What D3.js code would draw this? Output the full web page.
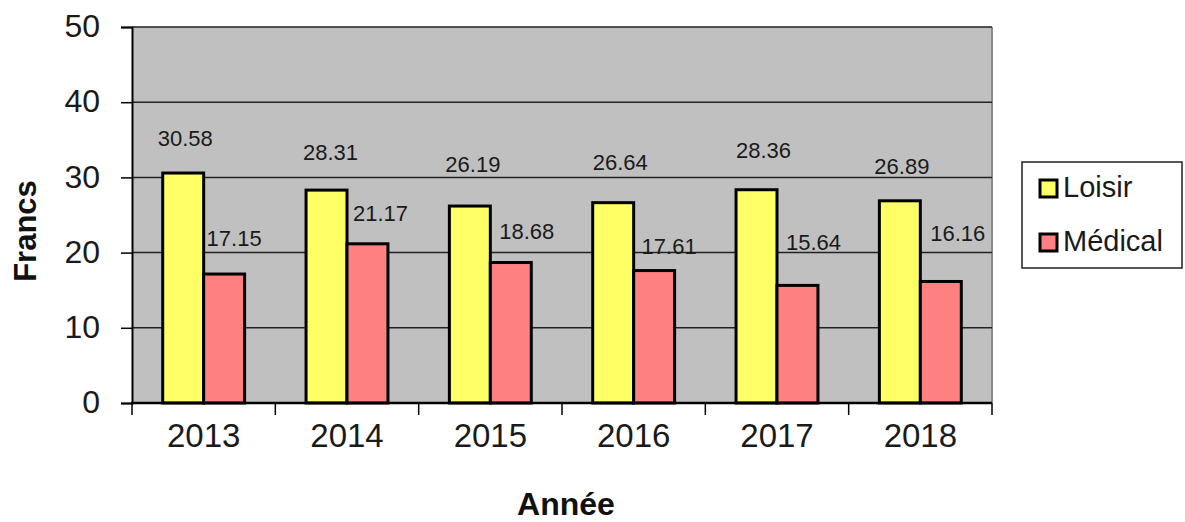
<!DOCTYPE html>
<html>
<head>
<meta charset="utf-8">
<script src="https://cdn.jsdelivr.net/npm/d3@7"></script>
<style>
	html, body { margin: 0; padding: 0; background: #FFFFFF; }
	svg { display: block; font-family: "Liberation Sans", Arial, sans-serif; }
</style>
</head>
<body>
<svg id="svgarea" width="1185" height="522"></svg>
<script>
const years		= ['2013', '2014', '2015', '2016', '2017', '2018'];
const series	= ['Loisir', 'Médical'];
const loisir	= [30.58, 28.31, 26.19, 26.64, 28.36, 26.89];
const medical	= [17.15, 21.17, 18.68, 17.61, 15.64, 16.16];
const yTicks	= [0, 10, 20, 30, 40, 50];

// the value labels are not all at the same spot above their bar: [dx, dy] per label
const loisirShift	= [[2, -35], [4, -38], [3, -42], [7, -41], [7, -40], [2, -35]];
const medicalShift	= [[10, -36], [13, -31], [16, -32], [15, -25], [16, -43], [17, -48]];

const colors	= {'Loisir': '#FFFF66', 'Médical': '#FF8080'};
const plot		= {left: 132, right: 992, top: 27, bottom: 403};

var svg = d3.select('#svgarea');

var x = d3.scaleBand().domain(years).range([plot.left, plot.right]);
var xs = d3.scaleBand().domain(series).range([0, x.bandwidth()]).paddingOuter(0.75);
var y = d3.scaleLinear().domain([0, 50]).range([plot.bottom, plot.top]);

var rows = years.map(function(year, i){
	return [
		{year: year, name: 'Loisir', value: loisir[i], shift: loisirShift[i]},
		{year: year, name: 'Médical', value: medical[i], shift: medicalShift[i]}
	];
}).flat();

/**
 * Background of the plot and its gridlines
 */
function drawBackground(){
	svg.append('rect').
		attr('x', plot.left).
		attr('y', plot.top).
		attr('width', plot.right - plot.left).
		attr('height', plot.bottom - plot.top).
		attr('fill', '#C0C0C0');
	svg.append('line').
		attr('x1', plot.right).attr('x2', plot.right).
		attr('y1', plot.top).attr('y2', plot.bottom).
		attr('stroke', '#8A8A8A').attr('stroke-width', 2);
	svg.append('g').selectAll('line').
		data(yTicks.filter(function(t){ return t > 0; })).
		join('line').
		attr('x1', plot.left).attr('x2', plot.right).
		attr('y1', function(d){ return y(d); }).
		attr('y2', function(d){ return y(d); }).
		attr('stroke', '#222222').attr('stroke-width', 1.5);
}

/**
 * Both axes, drawn with d3 then restyled
 */
function drawAxes(){
	var yAxis = svg.append('g').
		attr('transform', 'translate(' + plot.left + ',0)').
		call(d3.axisLeft(y).tickValues(yTicks).tickSize(11).tickPadding(21));
	yAxis.select('.domain').attr('stroke', '#000000').attr('stroke-width', 2);
	yAxis.selectAll('.tick line').attr('stroke', '#000000').attr('stroke-width', 1.5);
	yAxis.selectAll('.tick text').
		attr('font-family', '"Liberation Sans", Arial, sans-serif').
		attr('font-size', 32).
		attr('fill', '#1A1A1A').
		attr('dy', '0.3em');

	var xAxis = svg.append('g').
		attr('transform', 'translate(0,' + plot.bottom + ')').
		call(d3.axisBottom(x).tickSize(0).tickPadding(21));
	xAxis.select('.domain').remove();
	xAxis.append('line').
		attr('x1', plot.left - 1).attr('x2', plot.right).
		attr('stroke', '#000000').attr('stroke-width', 2.5);
	xAxis.selectAll('.tick text').
		attr('font-family', '"Liberation Sans", Arial, sans-serif').
		attr('font-size', 33).
		attr('fill', '#1A1A1A').
		attr('dy', '0.71em');
	// the ticks sit between the years
	xAxis.selectAll('.sep').
		data(years.concat(['end'])).
		join('line').
		attr('x1', function(d, i){ return plot.left + i * x.step(); }).
		attr('x2', function(d, i){ return plot.left + i * x.step(); }).
		attr('y1', 0).attr('y2', 12).
		attr('stroke', '#000000').attr('stroke-width', 1.5);
}

/**
 * Bars and their value labels
 */
function drawBars(){
	svg.append('g').selectAll('rect').
		data(rows).
		join('rect').
		attr('x', function(d){ return x(d.year) + xs(d.name); }).
		attr('y', function(d){ return y(d.value); }).
		attr('width', xs.bandwidth()).
		attr('height', function(d){ return y(0) - y(d.value); }).
		attr('fill', function(d){ return colors[d.name]; }).
		attr('stroke', '#000000').
		attr('stroke-width', 3);

	svg.append('g').selectAll('text').
		data(rows).
		join('text').
		attr('x', function(d){ return x(d.year) + xs(d.name) + xs.bandwidth() / 2 + d.shift[0]; }).
		attr('y', function(d){ return y(d.value) + d.shift[1] + 8; }).
		attr('text-anchor', 'middle').
		attr('font-size', 22).
		attr('fill', '#1A1A1A').
		text(function(d){ return d.value.toFixed(2); });
}

/**
 * Axis titles and legend
 */
function drawTitles(){
	svg.append('text').
		attr('transform', 'translate(36,' + 231 + ') rotate(-90)').
		attr('text-anchor', 'middle').
		attr('font-size', 31).
		attr('font-weight', 'bold').
		attr('fill', '#111111').
		text('Francs');
	svg.append('text').
		attr('x', (plot.left + plot.right) / 2 + 4).
		attr('y', 515).
		attr('text-anchor', 'middle').
		attr('font-size', 32).
		attr('font-weight', 'bold').
		attr('fill', '#111111').
		text('Année');

	var legend = svg.append('g');
	legend.append('rect').
		attr('x', 1022).attr('y', 162).
		attr('width', 160).attr('height', 106).
		attr('fill', '#FFFFFF').
		attr('stroke', '#222222').attr('stroke-width', 1.5);
	var item = legend.selectAll('g').
		data(series).
		join('g').
		attr('transform', function(d, i){ return 'translate(1040,' + (180 + i * 54) + ')'; });
	item.append('rect').
		attr('width', 17).attr('height', 17).
		attr('fill', function(d){ return colors[d]; }).
		attr('stroke', '#000000').attr('stroke-width', 3);
	item.append('text').
		attr('x', 23).attr('y', 17).
		attr('font-size', 29).
		attr('fill', '#1A1A1A').
		text(function(d){ return d; });
}

drawBackground();
drawBars();
drawAxes();
drawTitles();
</script>
</body>
</html>
